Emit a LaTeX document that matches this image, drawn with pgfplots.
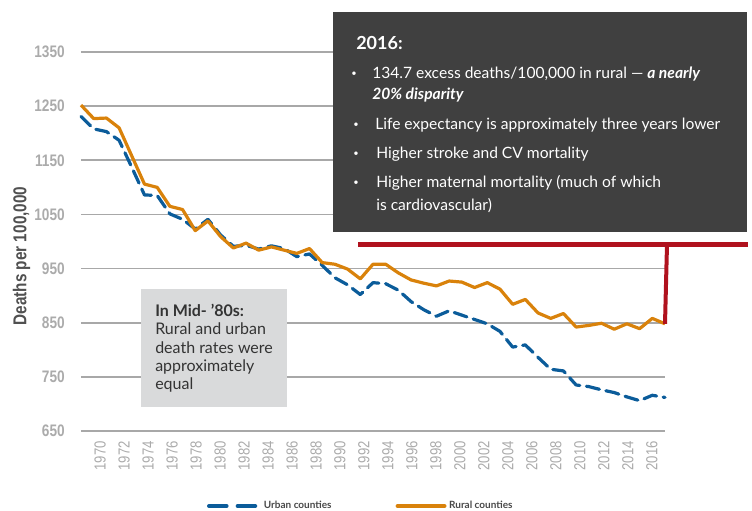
\documentclass[border=0pt]{standalone}
\usepackage{fontspec}
\setmainfont{Lato}
\newfontfamily\narrowfont[FakeStretch=0.82]{Liberation Sans}
\usepackage{pgfplots}
\pgfplotsset{compat=1.18}
\usepackage{pgfplotstable}

\definecolor{rural}{HTML}{D9820B}
\definecolor{urban}{HTML}{0B5C9A}
\definecolor{darkbox}{HTML}{404040}
\definecolor{redline}{HTML}{B0121E}
\definecolor{lightbox}{HTML}{D9DADB}
\definecolor{gridc}{HTML}{A8A8A8}
\definecolor{tickc}{HTML}{ABABAB}
\definecolor{labelc}{HTML}{505050}
\definecolor{legc}{HTML}{484848}
\definecolor{boxtext}{HTML}{333333}

\pgfplotstableread{
year urban rural
1970 1231 1252
1971 1208 1227
1972 1203 1228
1973 1187 1210
1974 1137 1158
1975 1086 1106
1976 1085 1100
1977 1051 1065
1978 1041 1059
1979 1023 1020
1980 1041 1038
1981 1012 1009
1982 991 988
1983 993 997
1984 986 984
1985 992 990
1986 987 984
1987 972 978
1988 977 987
1989 956 961
1990 933 958
1991 920 949
1992 902 931
1993 924 958
1994 922 958
1995 910 942
1996 889 929
1997 874 923
1998 862 918
1999 872 927
2000 864 925
2001 856 915
2002 848 924
2003 834 912
2004 805 884
2005 809 893
2006 786 868
2007 764 858
2008 761 867
2009 735 842
2010 732 845
2011 726 849
2012 721 838
2013 713 848
2014 706 839
2015 716 858
2016 712 848
}\mortality

\begin{document}
\begin{tikzpicture}
\begin{axis}[
  at={(0pt,0pt)}, anchor=south west,
  width=438pt, height=284.25pt, scale only axis,
  xmin=1970, xmax=2016, ymin=650, ymax=1350,
  clip=false,
  ytick={650,750,...,1350},
  xtick={1971.50,1973.39,1975.28,1977.17,1979.06,1980.95,1982.84,1984.73,1986.62,1988.51,1990.40,1992.29,1994.18,1996.07,1997.96,1999.85,2001.74,2003.63,2005.52,2007.41,2009.30,2011.19,2013.08,2014.97},
  xticklabels={1970,1972,1974,1976,1978,1980,1982,1984,1986,1988,1990,1992,1994,1996,1998,2000,2002,2004,2006,2008,2010,2012,2014,2016},
  ymajorgrids, grid style={gridc, line width=1.2pt},
  axis line style={draw=none},
  major tick length=0pt,
  /pgf/number format/1000 sep={},
  /pgf/number format/assume math mode=true,
  yticklabel style={font=\narrowfont\bfseries\fontsize{12.5}{12.5}\selectfont, text=tickc, anchor=east, inner sep=0pt, xshift=-12pt},
  xticklabel style={font=\narrowfont\fontsize{12}{12}\selectfont, text=tickc, yshift=-7.5pt, rotate=90, anchor=east, inner sep=0pt},
  ylabel={Deaths per 100,000},
  every axis y label/.style={at={(axis description cs:-0.1018,0.4617)}, rotate=90, anchor=center,
    font=\narrowfont\bfseries\fontsize{14}{14}\selectfont, text=labelc},
  legend columns=2,
  legend style={draw=none, fill=none, at={(axis description cs:0.2153,-0.1979)}, anchor=west, inner sep=0pt,
    font=\bfseries\fontsize{7.5}{7.5}\selectfont, text=legc,
    /tikz/every even column/.append style={column sep=46pt}},
]
\addplot[urban, line width=2.4pt, dash pattern=on 10pt off 5pt, line cap=round, line join=round,
  legend image code/.code={\draw[urban, line width=3.2pt, line cap=round, dash pattern=on 13pt off 8.5pt] (0pt,0pt) -- (37.5pt,0pt);}]
  table[x=year, y=urban]{\mortality};
\addlegendentry{Urban counties}
\addplot[rural, line width=2.4pt, line join=round,
  legend image code/.code={\draw[rural, line width=3.2pt, line cap=round] (0pt,0pt) -- (35pt,0pt);}]
  table[x=year, y=rural]{\mortality};
\addlegendentry{Rural counties}
\end{axis}

% annotation boxes
\fill[darkbox] (189pt,149.25pt) rectangle (499.5pt,314.25pt);
\fill[lightbox] (45pt,18pt) rectangle (154.5pt,106.5pt);
\draw[redline, line width=4.1pt] (207.75pt,139.9pt) -- (500.25pt,139.9pt);
\draw[redline, line width=3pt] (439.5pt,139.9pt) -- (438pt,80.4pt);

\begin{scope}[every node/.style={anchor=base west, inner sep=0pt, text=white, font=\fontsize{11.7}{11.7}\selectfont}]
\node[font=\bfseries\fontsize{13.5}{13.5}\selectfont] at (206.25pt,285.75pt) {2016:};
\node[font=\fontsize{7}{7}\selectfont] at (202.5pt,266pt) {\textbullet};
\node at (218.25pt,264pt) {134.7 excess deaths/100,000 in rural --- \textbf{\textit{a nearly}}};
\node at (218.25pt,248.25pt) {\textbf{\textit{20\% disparity}}};
\node[font=\fontsize{7}{7}\selectfont] at (204pt,227.75pt) {\textbullet};
\node at (220.5pt,225.75pt) {Life expectancy is approximately three years lower};
\node[font=\fontsize{7}{7}\selectfont] at (204pt,206pt) {\textbullet};
\node at (221.25pt,204pt) {Higher stroke and CV mortality};
\node[font=\fontsize{7}{7}\selectfont] at (204pt,184.25pt) {\textbullet};
\node at (221.25pt,182.25pt) {Higher maternal mortality (much of which};
\node at (221.25pt,165pt) {is cardiovascular)};
\end{scope}

\begin{scope}[every node/.style={anchor=base west, inner sep=0pt, text=boxtext, font=\fontsize{12}{12}\selectfont}]
\node[font=\bfseries\fontsize{12}{12}\selectfont] at (55.5pt,85.5pt) {In Mid- ’80s:};
\node at (55.5pt,72pt) {Rural and urban};
\node at (55.5pt,58.25pt) {death rates were};
\node at (55.5pt,44.5pt) {approximately};
\node at (55.5pt,30.75pt) {equal};
\end{scope}

\pgfresetboundingbox
\useasboundingbox (-60.75pt,-59.25pt) rectangle (503.25pt,323.25pt);
\end{tikzpicture}
\end{document}
